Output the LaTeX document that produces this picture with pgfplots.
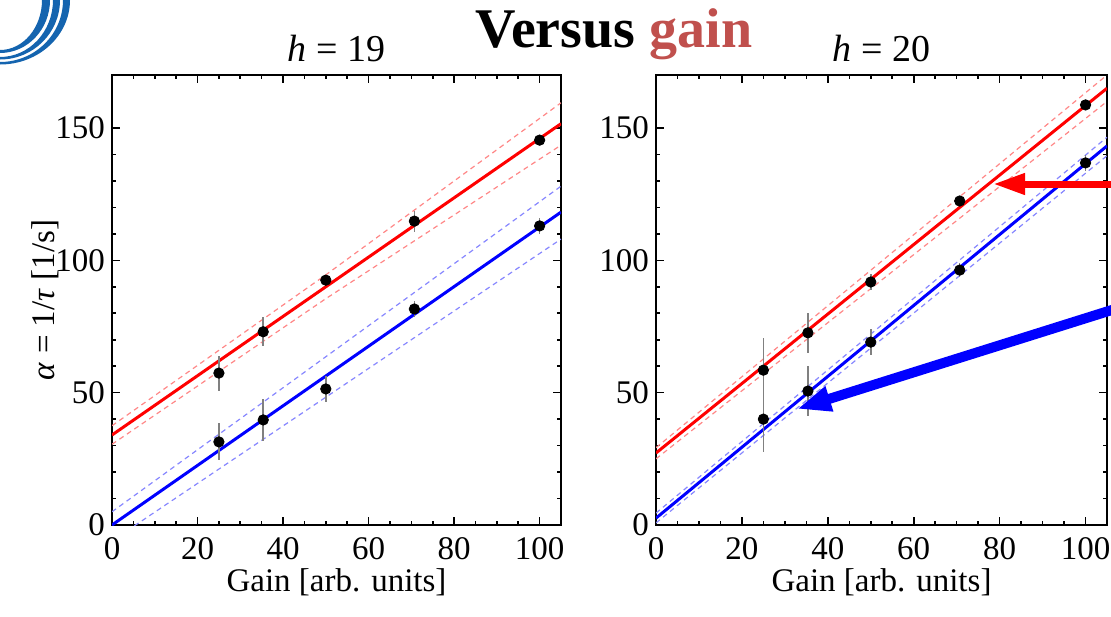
\documentclass[border=0pt]{standalone}
\usepackage{fontspec}
\setmainfont{Liberation Serif}
\usepackage{pgfplots}
\pgfplotsset{compat=1.18}
\usetikzlibrary{arrows.meta}

\definecolor{gainred}{RGB}{192,80,77}
\definecolor{logoblue}{RGB}{20,100,175}
\definecolor{bandred}{RGB}{255,135,135}
\definecolor{bandblue}{RGB}{135,135,255}

\pgfplotsset{
  panel/.style={
    scale only axis,
    height=225pt,
    clip mode=individual,
    xmin=0, xmax=105, ymin=0, ymax=170,
    xtick={0,20,...,100}, ytick={0,50,100,150},
    minor x tick num=3, minor y tick num=4,
    tick align=inside,
    major tick length=4pt, minor tick length=2pt,
    axis line style={line width=1pt},
    every tick/.style={black, line width=0.8pt},
    tick label style={font=\fontsize{16.5}{18}\selectfont},
    xticklabel style={yshift=-2.5pt},
    /pgf/number format/assume math mode=true,
    xlabel={Gain [arb. units]},
    xlabel style={font=\fontsize{16.5}{18}\selectfont,
      at={(axis description cs:0.5,-0.148)}, anchor=base},
  },
  fit/.style={line width=1.5pt, no markers},
  band/.style={line width=0.6pt, dash pattern=on 2.5pt off 2pt, no markers},
  pts/.style={only marks, mark=*, mark size=2.6pt,
    mark options={fill=black, draw=black},
    error bars/.cd, y dir=both, y explicit, error mark=none,
    error bar style={gray, line width=0.75pt}},
}

\begin{document}
\begin{tikzpicture}
\useasboundingbox (0,0) rectangle (555.5pt,-308pt);

% h = 19
\begin{axis}[panel, width=224.5pt,
    at={(56pt,-262.5pt)}, anchor=south west,
    ylabel={\textit{α} = 1/\textit{τ} [1/s]},
    ylabel style={font=\fontsize{16.5}{18}\selectfont,
      at={(axis description cs:-0.149,0.5)}, anchor=center},
]
\addplot[band, bandred] coordinates {(0,37.5) (50,94.5) (105,159.5)};
\addplot[band, bandred] coordinates {(0,30.5) (50,85.5) (105,143.5)};
\addplot[band, bandblue] coordinates {(0,5) (105,128)};
\addplot[band, bandblue] coordinates {(0,-6) (105,108)};
\addplot[fit, red] coordinates {(0,34) (105,151.6)};
\addplot[fit, blue] coordinates {(0,0) (105,118.2)};
\addplot[pts] table[x=g, y=v, y error=e] {
g v e
25 57.4 6.6
35.36 73 5.5
50 92.5 2
70.71 114.8 4
100 145.4 2
};
\addplot[pts] table[x=g, y=v, y error=e] {
g v e
25 31.4 7
35.36 39.7 8
50 51.4 5
70.71 81.6 3
100 113 3
};
\node[anchor=base, font=\fontsize{19}{21}\selectfont]
  at (axis description cs:0.5,1.03) {\textit{h} = 19};
\end{axis}

% h = 20
\begin{axis}[panel, width=225.5pt,
    at={(328pt,-262.5pt)}, anchor=south west,
]
\addplot[band, bandred] coordinates {(0,29.2) (105,170)};
\addplot[band, bandred] coordinates {(0,25) (105,160)};
\addplot[band, bandblue] coordinates {(0,4.5) (105,146.5)};
\addplot[band, bandblue] coordinates {(0,0.8) (105,139.5)};
\addplot[fit, red] coordinates {(0,27.2) (105,165)};
\addplot[fit, blue] coordinates {(0,2.6) (105,143.2)};
\addplot[pts] table[x=g, y=v, y error=e] {
g v e
25 58.5 12
35.36 72.6 7.5
50 91.8 3
70.71 122.4 2
100 158.7 2
};
\addplot[pts] table[x=g, y=v, y error=e] {
g v e
25 40 12.5
35.36 50.6 9.5
50 69.1 4.8
70.71 96.3 2.5
100 136.8 3
};
\node[anchor=base, font=\fontsize{19}{21}\selectfont]
  at (axis description cs:0.5,1.03) {\textit{h} = 20};
\end{axis}

\begin{scope}[x=0.5pt, y=-0.5pt]
  % logo
  \fill[logoblue] (50,0) arc[start angle=0, end angle=90, x radius=50, y radius=53]
    -- (0,50) arc[start angle=90, end angle=0, x radius=42, y radius=50] -- cycle;
  \fill[logoblue] (60,0) arc[start angle=0, end angle=90, x radius=60, y radius=59.5]
    -- (0,57) arc[start angle=90, end angle=0, x radius=53, y radius=57] -- cycle;
  \fill[logoblue] (70,0) arc[start angle=0, end angle=90, x radius=70, y radius=64.5]
    -- (0,62) arc[start angle=90, end angle=0, x radius=63, y radius=62] -- cycle;
  % title
  \node[anchor=base, font=\fontsize{28}{30}\selectfont\bfseries] at (614,47)
    {Versus \textcolor{gainred}{gain}};
  % arrows
  \draw[red, line width=3.5pt, -{Triangle[length=16pt, width=10pt]}]
    (1115,184) -- (993,184);
  \draw[blue, line width=5pt, -{Triangle[length=17pt, width=12pt]}]
    (1115,309) -- (797,409);
\end{scope}
\end{tikzpicture}
\end{document}
